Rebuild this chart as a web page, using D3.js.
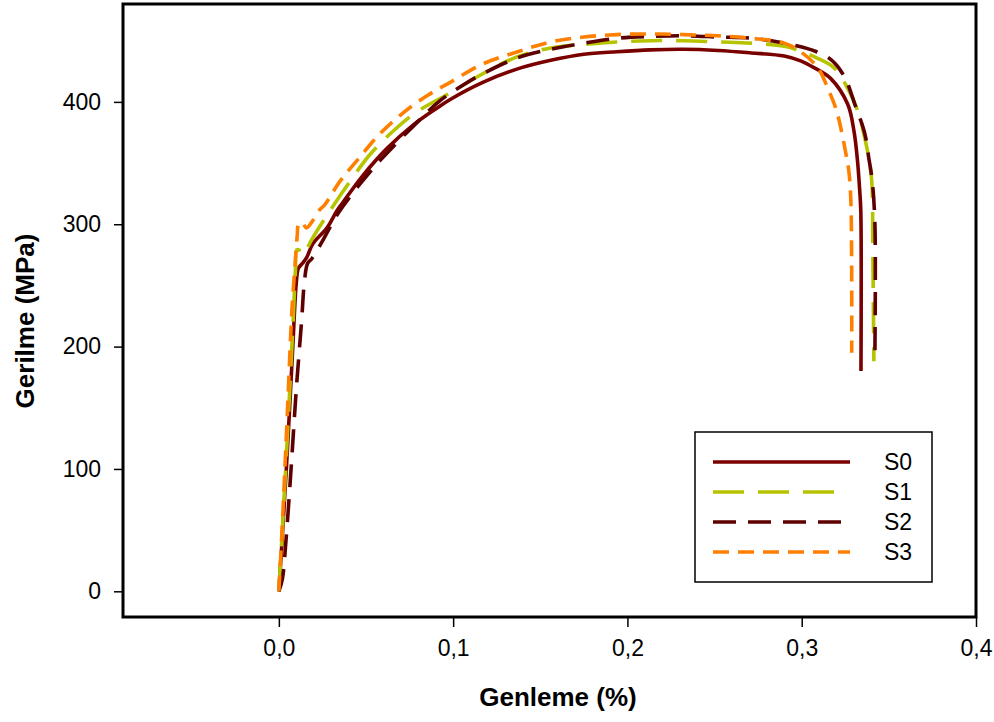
<!DOCTYPE html>
<html>
<head>
<meta charset="utf-8">
<script src="https://cdn.jsdelivr.net/npm/d3@7"></script>
<style>
  body { margin: 0; background: #fff; }
  svg text { font-family: "Liberation Sans", Arial, sans-serif; }
</style>
</head>
<body>
<svg id="chart" width="994" height="722"></svg>
<script>
// strain (%) , stress (MPa)
var s0 = [[0,0],[0.002,45],[0.005,118],[0.008,200],[0.0100,252],[0.0112,264],[0.0135,268],[0.016,273],
  [0.0195,284],[0.0276,297],[0.0333,311],[0.0368,318],[0.0483,340],[0.0621,362],[0.077,381],[0.0908,395],
  [0.0983,402],[0.117,416],[0.137,427],[0.156,434],[0.175,439],[0.194,441],[0.213,442.5],[0.232,443],
  [0.252,442],[0.271,440],[0.29,437.5],[0.2994,433.5],[0.307,428],[0.3167,419],[0.3264,398],[0.33,376],
  [0.332,352],[0.3333,327],[0.3339,311],[0.334,180]];

var s1 = [[0,0],[0.002,50],[0.005,130],[0.008,215],[0.0095,262],[0.0103,279],[0.0115,279],[0.0132,275],
  [0.016,280],[0.0195,289],[0.0293,311],[0.0408,335],[0.0523,357],[0.0655,376],[0.0793,392],[0.0966,406],
  [0.117,423],[0.137,437],[0.156,444],[0.175,447],[0.194,449],[0.213,450],[0.232,450],[0.252,449],
  [0.271,448],[0.29,445.5],[0.2994,441.5],[0.3085,436],[0.3184,428],[0.3264,411],[0.3328,390],[0.3356,374],
  [0.3385,354],[0.3402,335],[0.3408,278],[0.3414,188]];

var s2 = [[0,0],[0.002,10],[0.004,40],[0.007,100],[0.010,165],[0.013,220],[0.0148,255],[0.0165,268],
  [0.019,272],[0.0253,287],[0.034,309],[0.0466,333],[0.058,352],[0.077,380],[0.0925,401],[0.106,414],
  [0.117,423],[0.137,436],[0.156,443],[0.175,448],[0.194,452],[0.213,453.5],[0.232,454],[0.252,453],
  [0.271,452],[0.29,448],[0.3085,441],[0.318,433],[0.3247,420],[0.3305,398],[0.3362,374],[0.3385,354],
  [0.3405,335],[0.342,300],[0.342,196]];

var s3 = [[0,0],[0.002,55],[0.005,150],[0.0075,230],[0.0092,265],[0.0105,290],[0.0115,301],[0.0135,301],
  [0.0158,297],[0.019,302],[0.0235,312],[0.0264,316],[0.035,335],[0.0454,353],[0.058,374],[0.0713,391],
  [0.085,405],[0.0983,416],[0.117,431],[0.137,441],[0.156,449],[0.175,453],[0.194,455],[0.213,455.5],
  [0.232,455],[0.252,454],[0.271,452],[0.29,448],[0.2994,441],[0.3092,428],[0.315,411],[0.3195,395],
  [0.3224,379],[0.3253,358],[0.327,344],[0.3282,319],[0.3287,195]];

var seriesNames = ["S0", "S1", "S2", "S3"];
var xTicks = [0, 0.1, 0.2, 0.3, 0.4];
var yTicks = [0, 100, 200, 300, 400];

var series = [
  {values: s0, color: "#7a0000", dash: null,    key: 137},
  {values: s1, color: "#b6c400", dash: "31,14", key: 121},
  {values: s2, color: "#5e0000", dash: "23,12", key: 128},
  {values: s3, color: "#ff8000", dash: "16,9",  key: 137}
];

var svg = d3.select("#chart"),
    plotLeft = 123, plotRight = 976, plotTop = 4, plotBottom = 617;

var x = d3.scaleLinear().domain([-0.09, 0.4]).range([122, 976]),
    y = d3.scaleLinear().domain([-21, 480]).range([plotBottom, plotTop]);

svg.append("clipPath").attr("id", "plot-clip")
  .append("rect")
  .attr("x", plotLeft).attr("y", plotTop)
  .attr("width", plotRight - plotLeft).attr("height", plotBottom - plotTop);

var line = d3.line()
  .x(function(d) { return x(d[0]); })
  .y(function(d) { return y(d[1]); })
  .curve(d3.curveCatmullRom.alpha(0.5));

var plot = svg.append("g").attr("clip-path", "url(#plot-clip)");

plot.selectAll(".curve")
  .data(series)
  .enter()
  .append("path")
  .attr("class", "curve")
  .attr("d", function(d) { return line(d.values); })
  .attr("fill", "none")
  .attr("stroke", function(d) { return d.color; })
  .attr("stroke-width", 3.6)
  .attr("stroke-dasharray", function(d) { return d.dash; });

// axes
var fmt = function(d) { return d3.format(".1f")(d).replace(".", ","); };

var xAxis = svg.append("g")
  .attr("transform", "translate(0," + plotBottom + ")")
  .call(d3.axisBottom(x).tickValues(xTicks).tickSize(10).tickPadding(13).tickFormat(fmt));

var yAxis = svg.append("g")
  .attr("transform", "translate(" + plotLeft + ",0)")
  .call(d3.axisLeft(y).tickValues(yTicks).tickSize(9).tickPadding(13).tickFormat(d3.format("d")));

[xAxis, yAxis].forEach(function(a) {
  a.attr("font-size", null).attr("font-family", null);
  a.select(".domain").remove();
  a.selectAll(".tick line").attr("stroke", "#000").attr("stroke-width", 1.5);
  a.selectAll(".tick text").attr("fill", "#000").style("font-size", "23px");
});

// frame
svg.append("rect")
  .attr("x", plotLeft).attr("y", plotTop)
  .attr("width", plotRight - plotLeft).attr("height", plotBottom - plotTop)
  .attr("fill", "none")
  .attr("stroke", "#000")
  .attr("stroke-width", 3);

// axis titles
svg.append("text")
  .attr("x", 558).attr("y", 706)
  .attr("text-anchor", "middle")
  .style("font-size", "26px").style("font-weight", "bold")
  .text("Genleme (%)");

svg.append("text")
  .attr("transform", "translate(34,321) rotate(-90)")
  .attr("text-anchor", "middle")
  .style("font-size", "26px").style("font-weight", "bold")
  .text("Gerilme (MPa)");

// legend
var legend = svg.append("g").attr("transform", "translate(695,432)");

legend.append("rect")
  .attr("width", 237).attr("height", 150)
  .attr("fill", "#fff")
  .attr("stroke", "#000")
  .attr("stroke-width", 1.5);

var item = legend.selectAll(".item")
  .data(series)
  .enter()
  .append("g")
  .attr("class", "item")
  .attr("transform", function(d, i) { return "translate(0," + (30 + i * 30) + ")"; });

item.append("line")
  .attr("x1", 18).attr("x2", function(d) { return 18 + d.key; })
  .attr("stroke", function(d) { return d.color; })
  .attr("stroke-width", 3.6)
  .attr("stroke-dasharray", function(d) { return d.dash; });

item.append("text")
  .attr("x", 189).attr("y", 8)
  .style("font-size", "23px")
  .text(function(d, i) { return seriesNames[i]; });
</script>
</body>
</html>
